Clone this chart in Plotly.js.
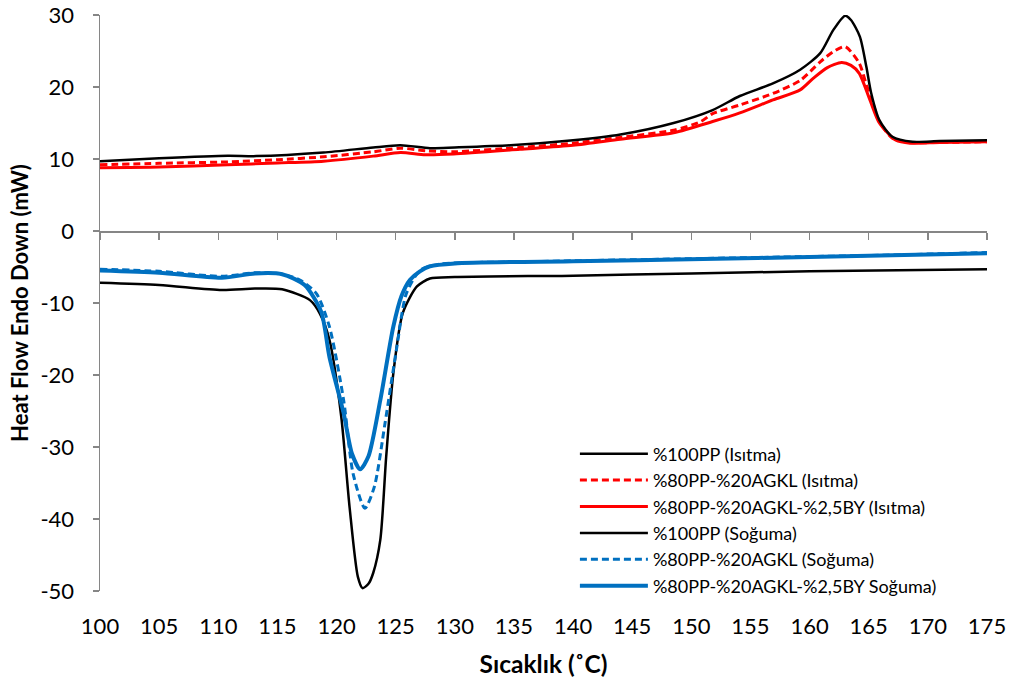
<!DOCTYPE html>
<html><head><meta charset="utf-8">
<script src="https://cdn.plot.ly/plotly-3.0.1.min.js"></script>
<style>html,body{margin:0;padding:0;background:#fff}</style>
</head><body><div id="chart" style="width:1011px;height:684px"></div>
<script>
// Series names
const names = [
  "%100PP (Isıtma)",
  "%80PP-%20AGKL (Isıtma)",
  "%80PP-%20AGKL-%2,5BY (Isıtma)",
  "%100PP (Soğuma)",
  "%80PP-%20AGKL (Soğuma)",
  "%80PP-%20AGKL-%2,5BY Soğuma)"
];

// Heating, %100PP
const h100_T = [100, 105, 110.8, 113.2, 118.9, 123.1, 125.4, 127.9, 130, 134.7, 140, 144, 148.5, 151.8, 154.1, 156.9, 159.2, 160.9, 162, 163, 163.5, 164.25, 164.8, 165.2, 165.9, 167, 168.7, 171, 175];
const h100_Q = [9.7, 10.1, 10.45, 10.4, 10.9, 11.6, 11.9, 11.5, 11.6, 11.9, 12.6, 13.4, 15.0, 16.8, 18.75, 20.5, 22.4, 24.7, 27.9, 29.9, 29.3, 27.0, 22.8, 19.2, 15.4, 13.1, 12.4, 12.5, 12.6];

// Heating, %80PP-%20AGKL
const h80_T = [100, 105, 110.8, 115, 118.9, 123.1, 125.4, 127.5, 129.9, 135.5, 140, 144, 148.5, 150.8, 151.8, 154.1, 156.9, 159.2, 160.9, 162, 163, 164.2, 164.8, 165.2, 165.9, 167, 168.5, 171, 175];
const h80_Q = [9.2, 9.4, 9.6, 9.9, 10.3, 11.0, 11.5, 11.15, 11.0, 11.6, 12.2, 13.0, 14.0, 15.2, 16.3, 17.5, 19.1, 20.9, 23.5, 24.9, 25.6, 23.3, 20.3, 18.5, 15.2, 12.9, 12.3, 12.3, 12.4];

// Heating, %80PP-%20AGKL-%2,5BY
const h80b_T = [100, 105, 110.8, 115, 118.9, 123.1, 125.4, 127.5, 129.9, 135.5, 140, 144, 148.5, 151.8, 154.1, 156.9, 159.2, 160.3, 161.5, 162.7, 163.5, 164.2, 165.1, 165.9, 167.3, 168.5, 171, 175];
const h80b_Q = [8.8, 8.9, 9.2, 9.45, 9.7, 10.4, 10.9, 10.6, 10.7, 11.35, 11.9, 12.75, 13.65, 15.2, 16.4, 18.2, 19.6, 21.2, 22.7, 23.4, 23.0, 21.9, 18.2, 15.0, 12.6, 12.2, 12.3, 12.4];

// Cooling, %100PP
const c100_T = [100, 105, 110.3, 113.1, 115.4, 117.75, 118.6, 119.4, 120.4, 121.1, 121.8, 122.2, 122.7, 123.1, 123.7, 124.2, 124.8, 125.6, 126.8, 127.9, 130, 140, 150, 160, 175];
const c100_Q = [-7.2, -7.5, -8.2, -8.0, -8.1, -9.6, -11.5, -15.1, -25.8, -38.3, -48.0, -49.6, -49.0, -47.5, -42.9, -31.3, -19.8, -11.4, -7.7, -6.6, -6.4, -6.2, -5.9, -5.6, -5.3];

// Cooling, %80PP-%20AGKL
const c80_T = [100, 105, 110.3, 113.1, 115.4, 116.9, 118.3, 119.4, 120.6, 121.4, 122.4, 123.2, 124.1, 125.1, 125.9, 127.1, 128.7, 135, 145, 155, 165, 175];
const c80_Q = [-5.3, -5.6, -6.3, -5.8, -6.0, -6.8, -8.7, -13.3, -23.5, -33.7, -38.5, -35.5, -26.7, -16.1, -8.7, -5.4, -4.6, -4.3, -4.0, -3.7, -3.4, -3.0];

// Cooling, %80PP-%20AGKL-%2,5BY
const c80b_T = [100, 105, 110.3, 113.1, 115.4, 117.3, 118.7, 119.4, 120.6, 121.3, 122.0, 122.7, 123.7, 124.8, 125.5, 126.2, 127.05, 127.9, 130, 140, 151, 160, 175];
const c80b_Q = [-5.5, -5.8, -6.5, -5.9, -6.0, -7.5, -11.2, -17.5, -25.3, -30.9, -33.1, -31.3, -23.5, -13.3, -9.0, -6.8, -5.6, -4.9, -4.5, -4.2, -3.9, -3.6, -3.1];

const xTicks = [100,105,110,115,120,125,130,135,140,145,150,155,160,165,170,175];
const yTicks = [-50,-40,-30,-20,-10,0,10,20,30];

const FONT = "Lato, 'Open Sans', sans-serif";
const sm = 0.7;

const traces = [
  {x: h100_T, y: h100_Q, name: names[0], xaxis: 'x2', line: {color: '#000000', width: 2.5, shape: 'spline', smoothing: sm}},
  {x: h80_T, y: h80_Q, name: names[1], line: {color: '#FF0000', width: 3, dash: '7px,4px', shape: 'spline', smoothing: sm}},
  {x: h80b_T, y: h80b_Q, name: names[2], line: {color: '#FF0000', width: 3, shape: 'spline', smoothing: sm}},
  {x: c100_T, y: c100_Q, name: names[3], line: {color: '#000000', width: 2.5, shape: 'spline', smoothing: sm}},
  {x: c80_T, y: c80_Q, name: names[4], line: {color: '#0070C0', width: 3, dash: '7px,4px', shape: 'spline', smoothing: sm}},
  {x: c80b_T, y: c80b_Q, name: names[5], line: {color: '#0070C0', width: 4, shape: 'spline', smoothing: sm}}
].map(t => Object.assign({type: 'scatter', mode: 'lines', hoverinfo: 'skip'}, t));

const layout = {
  width: 1011, height: 684,
  margin: {l: 100, r: 24, t: 15, b: 93},
  paper_bgcolor: '#ffffff', plot_bgcolor: '#ffffff',
  font: {family: FONT, size: 22, color: '#000000'},
  showlegend: true,
  legend: {x: 0.5354, y: 0.27, xanchor: 'left', yanchor: 'top', bgcolor: 'rgba(0,0,0,0)',
           font: {family: FONT, size: 18, color: '#000'}, itemwidth: 68, tracegroupgap: 0},
  xaxis: {
    range: [100, 175], tickvals: xTicks, ticktext: xTicks.map(String),
    showline: false, showgrid: false, zeroline: false, ticks: '',
    ticklabelstandoff: 20,
    tickfont: {family: FONT, size: 22},
    title: {text: 'Sıcaklık (˚C)', font: {family: FONT, size: 24.5, color: '#000', weight: 'bold'}, standoff: 17}
  },
  xaxis2: {
    range: [100, 175], tickvals: xTicks, overlaying: 'x', anchor: 'free', position: 0.625,
    showline: true, linecolor: '#868686', linewidth: 1.5,
    ticks: 'outside', ticklen: 7, tickwidth: 1.5, tickcolor: '#868686',
    showticklabels: false, showgrid: false, zeroline: false
  },
  yaxis: {
    range: [-50, 30], tickvals: yTicks, ticktext: yTicks.map(String),
    showline: true, linecolor: '#868686', linewidth: 1.5,
    ticks: 'outside', ticklen: 6, tickwidth: 1.5, tickcolor: '#868686',
    ticklabelstandoff: 14,
    showgrid: false, zeroline: false,
    tickfont: {family: FONT, size: 22},
    title: {text: 'Heat Flow Endo Down (mW)', font: {family: FONT, size: 22, color: '#000', weight: 'bold'}, standoff: 5}
  }
};

Plotly.newPlot('chart', traces, layout, {displayModeBar: false, staticPlot: true});
</script></body></html>
